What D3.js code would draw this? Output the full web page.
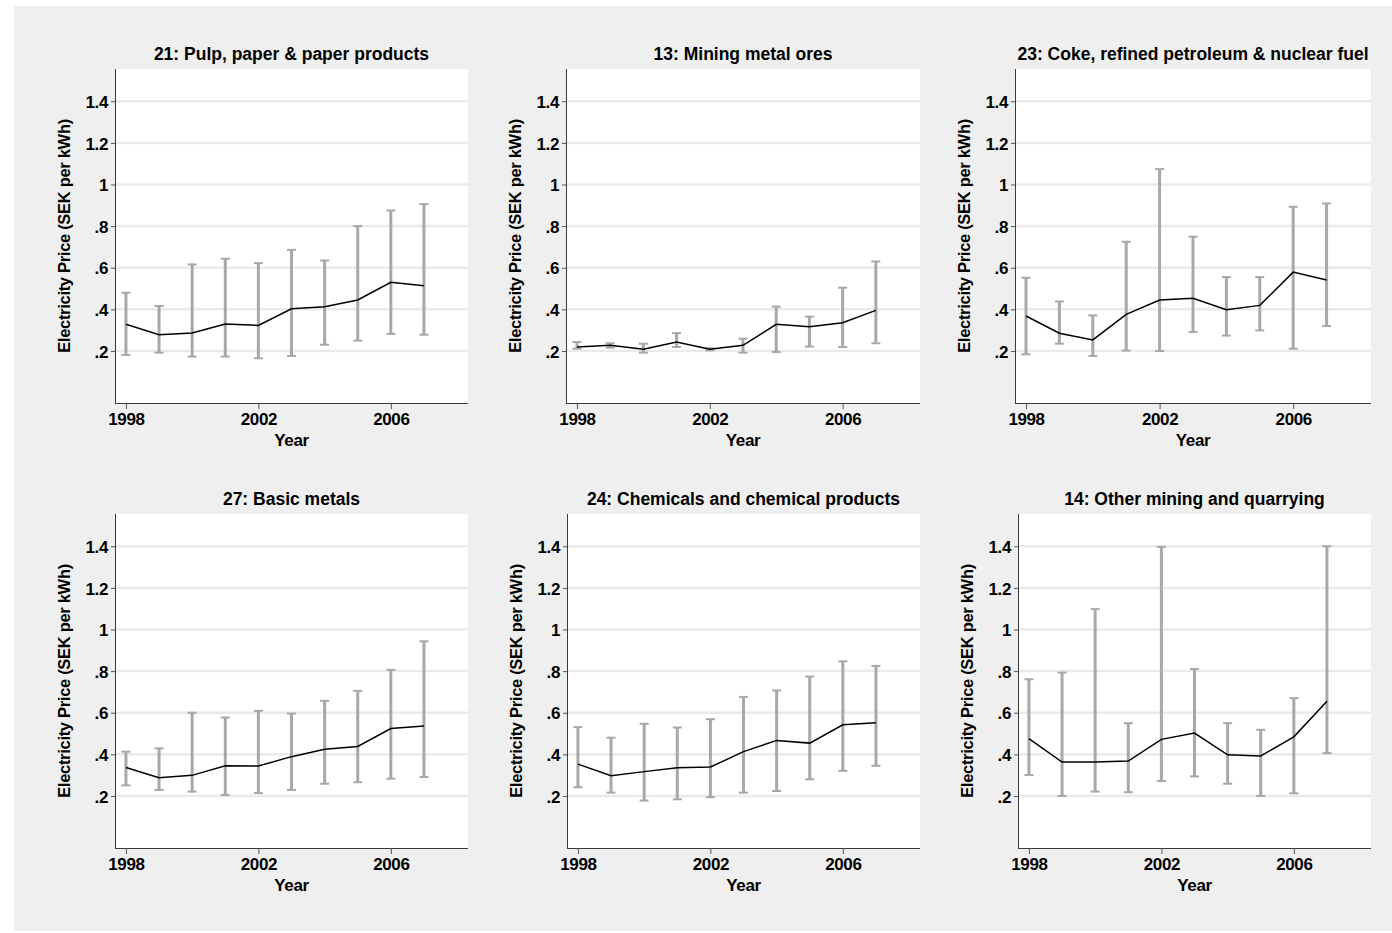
<!DOCTYPE html>
<html>
<head>
<meta charset="utf-8">
<script src="https://cdn.jsdelivr.net/npm/d3@7"></script>
<style>
  body { margin: 0; background: #ffffff; }
  svg text { font-family: "Liberation Sans", Arial, sans-serif; font-weight: bold; fill: #000; }
</style>
</head>
<body>
<svg id="chart" width="1392" height="933"></svg>
<script>
// years on x axis
var years = [1998, 1999, 2000, 2001, 2002, 2003, 2004, 2005, 2006, 2007];
var xTicks = [1998, 2002, 2006];
var yTicks = [0.2, 0.4, 0.6, 0.8, 1, 1.2, 1.4];

var titles = [
    "21: Pulp, paper & paper products",
    "13: Mining metal ores",
    "23: Coke, refined petroleum & nuclear fuel",
    "27: Basic metals",
    "24: Chemicals and chemical products",
    "14: Other mining and quarrying"
];

// mean price per year and upper / lower bar ends, one set per industry
var pulpMean   = [0.328, 0.278, 0.286, 0.330, 0.323, 0.403, 0.413, 0.445, 0.530, 0.514];
var pulpHi     = [0.480, 0.416, 0.616, 0.643, 0.622, 0.686, 0.635, 0.800, 0.875, 0.906];
var pulpLo     = [0.181, 0.192, 0.173, 0.173, 0.165, 0.176, 0.230, 0.250, 0.282, 0.278];

var metalMean  = [0.219, 0.227, 0.208, 0.243, 0.208, 0.227, 0.328, 0.317, 0.336, 0.395];
var metalHi    = [0.243, 0.237, 0.235, 0.286, 0.213, 0.259, 0.413, 0.365, 0.504, 0.630];
var metalLo    = [0.211, 0.216, 0.192, 0.219, 0.203, 0.192, 0.195, 0.221, 0.219, 0.237];

var cokeMean   = [0.368, 0.285, 0.253, 0.376, 0.445, 0.453, 0.398, 0.419, 0.579, 0.541];
var cokeHi     = [0.552, 0.438, 0.371, 0.725, 1.074, 0.749, 0.555, 0.555, 0.893, 0.909];
var cokeLo     = [0.184, 0.235, 0.176, 0.202, 0.200, 0.291, 0.274, 0.299, 0.211, 0.320];

var basicMean  = [0.337, 0.288, 0.299, 0.345, 0.344, 0.389, 0.425, 0.438, 0.524, 0.536];
var basicHi    = [0.413, 0.429, 0.600, 0.577, 0.609, 0.596, 0.657, 0.705, 0.806, 0.943];
var basicLo    = [0.251, 0.229, 0.221, 0.205, 0.214, 0.229, 0.259, 0.266, 0.283, 0.291];

var chemMean   = [0.353, 0.297, 0.317, 0.336, 0.339, 0.413, 0.467, 0.454, 0.542, 0.552];
var chemHi     = [0.531, 0.480, 0.547, 0.529, 0.569, 0.676, 0.707, 0.774, 0.847, 0.825];
var chemLo     = [0.242, 0.216, 0.178, 0.184, 0.194, 0.216, 0.224, 0.280, 0.321, 0.345];

var otherMean  = [0.476, 0.363, 0.363, 0.368, 0.472, 0.502, 0.398, 0.392, 0.484, 0.655];
var otherHi    = [0.761, 0.793, 1.098, 0.550, 1.397, 0.810, 0.550, 0.518, 0.670, 1.400];
var otherLo    = [0.301, 0.200, 0.221, 0.218, 0.272, 0.294, 0.259, 0.200, 0.213, 0.406];

var means = [pulpMean, metalMean, cokeMean, basicMean, chemMean, otherMean];
var highs = [pulpHi, metalHi, cokeHi, basicHi, chemHi, otherHi];
var lows  = [pulpLo, metalLo, cokeLo, basicLo, chemLo, otherLo];

// panel placement (plot region boxes)
var lefts = [115, 566, 1015, 115, 567, 1018];
var right = [468, 920, 1371, 468, 920, 1371];
var tops  = [69, 69, 69, 514, 514, 514];
var bottoms = [403, 403, 403, 848, 848, 848];

var svg = d3.select("#chart");

// grey outer background
svg.append("rect")
    .attr("x", 14).attr("y", 6)
    .attr("width", 1378).attr("height", 925)
    .attr("fill", "#efefef");

function panel(i) {
    var x = d3.scaleLinear().domain([1997.67, 2008.33]).range([lefts[i], right[i]]);
    var y = d3.scaleLinear().domain([-0.05, 1.555]).range([bottoms[i], tops[i]]);
    var g = svg.append("g");

    // plot region
    g.append("rect")
        .attr("x", lefts[i]).attr("y", tops[i])
        .attr("width", right[i] - lefts[i]).attr("height", bottoms[i] - tops[i])
        .attr("fill", "#ffffff");

    // gridlines
    g.selectAll(".grid")
        .data(yTicks)
        .enter()
        .append("line")
        .attr("x1", lefts[i]).attr("x2", right[i])
        .attr("y1", function (d) { return y(d); })
        .attr("y2", function (d) { return y(d); })
        .attr("stroke", "#eaeaea")
        .attr("stroke-width", 2.5);

    // y axis
    var yAxis = g.append("g")
        .attr("transform", "translate(" + lefts[i] + ",0)")
        .call(d3.axisLeft(y).tickValues(yTicks).tickSize(4).tickPadding(3)
            .tickFormat(function (d) { return d3.format("")(d).replace(/^0\./, "."); }));
    yAxis.select(".domain").attr("d", "M0.5," + tops[i] + "V" + bottoms[i]).attr("stroke", "#3a3a3a");
    yAxis.selectAll(".tick line").attr("stroke", "#555");
    yAxis.selectAll(".tick text").style("font-size", "17px").style("letter-spacing", "-0.4px").attr("dy", "0.36em");

    // x axis
    var xAxis = g.append("g")
        .attr("transform", "translate(0," + bottoms[i] + ")")
        .call(d3.axisBottom(x).tickValues(xTicks).tickSize(6).tickPadding(4).tickFormat(d3.format("d")));
    xAxis.select(".domain").attr("d", "M" + lefts[i] + ",0.5H" + right[i]).attr("stroke", "#3a3a3a");
    xAxis.selectAll(".tick line").attr("stroke", "#555");
    xAxis.selectAll(".tick text").style("font-size", "17px").style("letter-spacing", "-0.4px");

    // error bars
    var rows = years.map(function (yr, k) {
        return { yr: yr, m: means[i][k], hi: highs[i][k], lo: lows[i][k] };
    });
    var bars = g.append("g").attr("stroke", "#a8a8a8");
    bars.selectAll(".bar")
        .data(rows)
        .enter()
        .append("line")
        .attr("x1", function (d) { return x(d.yr); })
        .attr("x2", function (d) { return x(d.yr); })
        .attr("y1", function (d) { return y(d.lo); })
        .attr("y2", function (d) { return y(d.hi); })
        .attr("stroke-width", 3);
    ["hi", "lo"].forEach(function (key) {
        bars.selectAll(".cap" + key)
            .data(rows)
            .enter()
            .append("line")
            .attr("x1", function (d) { return x(d.yr) - 4.5; })
            .attr("x2", function (d) { return x(d.yr) + 4.5; })
            .attr("y1", function (d) { return y(d[key]); })
            .attr("y2", function (d) { return y(d[key]); })
            .attr("stroke-width", 2);
    });

    // mean line
    var line = d3.line()
        .x(function (d) { return x(d.yr); })
        .y(function (d) { return y(d.m); });
    g.append("path")
        .datum(rows)
        .attr("d", line)
        .attr("fill", "none")
        .attr("stroke", "#000")
        .attr("stroke-width", 1.5);

    // titles
    var cx = (lefts[i] + right[i]) / 2;
    g.append("text")
        .attr("x", cx).attr("y", tops[i] - 9)
        .attr("text-anchor", "middle")
        .style("font-size", "17.5px")
        .text(titles[i]);

    g.append("text")
        .attr("x", cx).attr("y", bottoms[i] + 43)
        .attr("text-anchor", "middle")
        .style("font-size", "17px")
        .style("letter-spacing", "-0.4px")
        .text("Year");

    g.append("text")
        .attr("transform", "translate(" + (lefts[i] - 45) + "," + ((tops[i] + bottoms[i]) / 2) + ") rotate(-90)")
        .attr("text-anchor", "middle")
        .style("font-size", "16.5px")
        .style("letter-spacing", "-0.3px")
        .text("Electricity Price (SEK per kWh)");
}

for (var p = 0; p < 6; p++) {
    panel(p);
}
</script>
</body>
</html>
